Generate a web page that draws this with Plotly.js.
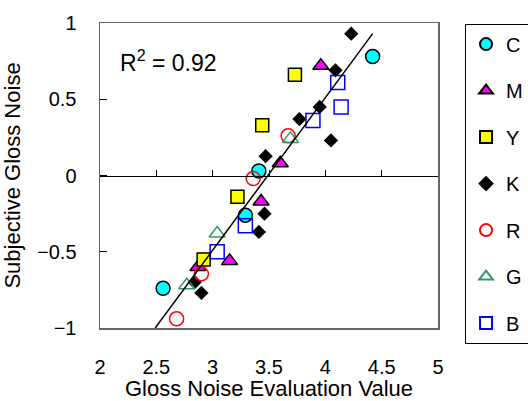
<!DOCTYPE html>
<html>
<head>
<meta charset="utf-8">
<script src="https://cdn.plot.ly/plotly-3.0.1.min.js"></script>
<style>html,body{margin:0;padding:0;background:#fff;}#chart{width:528px;height:401px;}</style>
</head>
<body>
<div id="chart"></div>
<script>
// Data
const cX = [2.56, 3.29, 3.41, 4.42];
const cY = [-0.74, -0.26, 0.03, 0.78];
const mX = [2.87, 3.15, 3.43, 3.60, 3.96];
const mY = [-0.60, -0.56, -0.17, 0.08, 0.72];
const yX = [2.92, 3.22, 3.44, 3.73];
const yY = [-0.55, -0.14, 0.33, 0.66];
const kX = [2.84, 2.90, 3.41, 3.46, 3.47, 3.77, 3.95, 4.05, 4.09, 4.23];
const kY = [-0.70, -0.77, -0.37, -0.25, 0.127, 0.37, 0.45, 0.23, 0.69, 0.93];
const rX = [2.68, 2.90, 3.36, 3.67];
const rY = [-0.94, -0.645, -0.02, 0.26];
const gX = [2.77, 3.04, 3.69];
const gY = [-0.72, -0.38, 0.24];
const bX = [3.04, 3.29, 3.89, 4.11, 4.14];
const bY = [-0.50, -0.33, 0.36, 0.61, 0.45];
const fitX = [2.49, 4.42];
const fitY = [-1.0, 0.93];
const xTicks = [2, 2.5, 3, 3.5, 4, 4.5, 5];
const xInnerTicks = [2.5, 3, 3.5, 4, 4.5];
const yTicks = [-1, -0.5, 0, 0.5, 1];

const F = "Liberation Sans, Arial, sans-serif";

function pts(name, x, y, marker, grp) {
  return {type: 'scatter', mode: 'markers', name: name, x: x, y: y,
          marker: marker, legendgroup: grp, cliponaxis: false};
}

const traces = [
  {type: 'scatter', mode: 'lines', x: fitX, y: fitY, xaxis: 'x2', yaxis: 'y', showlegend: false,
   line: {color: '#000', width: 1.5}, hoverinfo: 'skip'},
  pts('C', cX, cY, {symbol: 'circle', size: 14, color: '#00FFFF', line: {color: '#000', width: 1.5}}, 'c'),
  pts('M', mX, mY, {symbol: 'triangle-up', size: 14, color: '#FF00FF', line: {color: '#000', width: 1.5}}, 'm'),
  pts('Y', yX, yY, {symbol: 'square', size: 13, color: '#FFFF00', line: {color: '#000', width: 1.5}}, 'y'),
  pts('K', kX, kY, {symbol: 'diamond', size: 11, color: '#000', line: {color: '#000', width: 0}}, 'k'),
  pts('R', rX, rY, {symbol: 'circle-open', size: 14, color: '#FF0000', line: {width: 1.5}}, 'r'),
  pts('G', gX, gY, {symbol: 'triangle-up-open', size: 14, color: '#339966', line: {width: 1.5}}, 'g'),
  pts('B', bX, bY, {symbol: 'square-open', size: 14, color: '#0000FF', line: {width: 1.5}}, 'b')
];

const layout = {
  width: 528, height: 401,
  margin: {l: 100, r: 90, t: 23, b: 73, pad: 0, autoexpand: false},
  paper_bgcolor: '#fff', plot_bgcolor: '#fff',
  font: {family: F, size: 20, color: '#000'},
  showlegend: true,
  legend: {x: 1.08, y: 0.998, xanchor: 'left', yanchor: 'top',
           bordercolor: '#000', borderwidth: 1, bgcolor: '#fff', maxheight: 400,
           font: {family: F, size: 20}, tracegroupgap: 17.5, itemsizing: 'constant'},
  xaxis: {range: [2, 5], tickvals: xTicks, ticktext: xTicks.map(String),
          ticks: '', showgrid: false, zeroline: false,
          showline: true, linecolor: '#666', linewidth: 1.5, mirror: true,
          ticklabelstandoff: 20, tickfont: {family: F, size: 20},
          title: {text: 'Gloss Noise Evaluation Value', font: {family: F, size: 22}, standoff: 8}},
  xaxis2: {range: [2, 5], overlaying: 'x', anchor: 'free', position: 0.5, side: 'top',
           tickvals: xInnerTicks, ticks: 'outside', ticklen: 6, tickcolor: '#000', tickwidth: 1,
           showticklabels: false, showgrid: false, zeroline: false,
           showline: true, linecolor: '#000', linewidth: 1},
  yaxis: {range: [-1, 1], tickvals: yTicks, ticks: 'inside', ticklen: 7, tickcolor: '#000',
          showgrid: false, zeroline: false,
          showline: true, linecolor: '#666', linewidth: 1.5, mirror: true,
          ticklabelstandoff: 18, tickfont: {family: F, size: 20},
          title: {text: 'Subjective Gloss Noise', font: {family: F, size: 22}, standoff: 14}},
  annotations: [{xref: 'paper', yref: 'paper', x: 0.053, y: 0.875, xanchor: 'left', yanchor: 'middle',
                 text: 'R<sup>2</sup> = 0.92', showarrow: false, font: {family: F, size: 23}}]
};

Plotly.newPlot('chart', traces, layout, {displayModeBar: false, staticPlot: true});
</script>
</body>
</html>
